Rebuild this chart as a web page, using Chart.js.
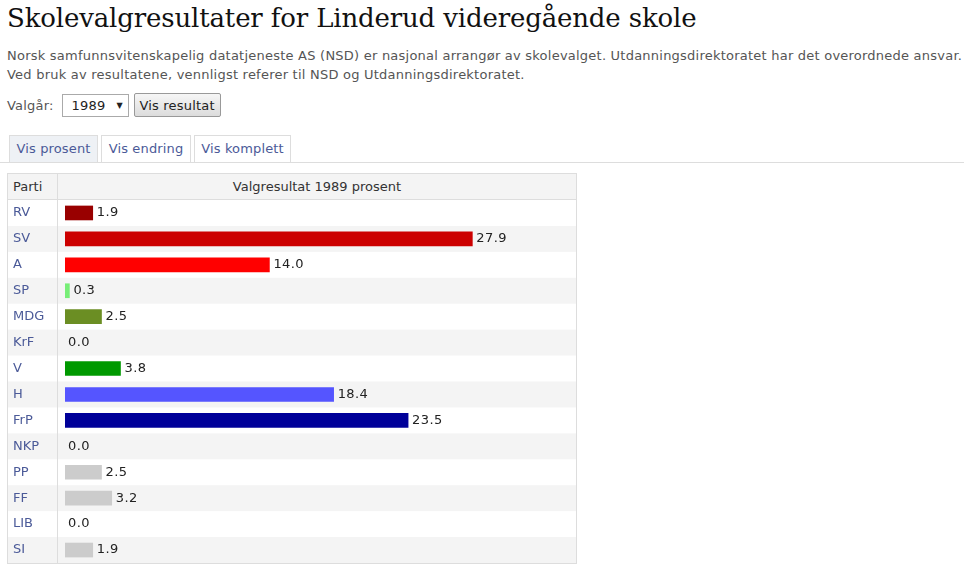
<!DOCTYPE html>
<html lang="no">
<head>
<meta charset="utf-8">
<script src="https://cdn.jsdelivr.net/npm/chart.js@4"></script>
<style>
  body { margin: 0; background: #fff; font-family: "DejaVu Sans", Verdana, sans-serif; font-size: 13px; color: #555; }
  h1 { position: absolute; left: 7px; top: 3px; margin: 0; font-family: "DejaVu Serif", Georgia, serif; font-weight: normal; font-size: 26px; letter-spacing: -0.15px; color: #111; white-space: nowrap; }
  .intro { position: absolute; left: 7px; top: 46px; margin: 0; line-height: 19px; white-space: nowrap; letter-spacing: 0.23px; }
  .form { position: absolute; left: 7px; top: 93px; height: 24px; display: flex; align-items: center; letter-spacing: 0.2px; }
  .sel { margin-left: 8px; width: 67px; height: 23px; border: 1px solid #aaa; background: #fff; color: #222; display: flex; align-items: center; box-sizing: border-box; padding-left: 9px; }
  .sel span { font-size: 8px; margin-left: 11px; }
  .btn { margin-left: 5px; height: 24px; width: 87px; justify-content: center; box-sizing: border-box; border: 1px solid #999; border-radius: 2px; background: linear-gradient(#f6f6f6, #dcdcdc); color: #222; display: flex; align-items: center; }
  .tabs { position: absolute; left: 0; top: 135px; width: 964px; height: 27px; border-bottom: 1px solid #ddd; letter-spacing: 0.15px; }
  .tab { position: absolute; top: 0; height: 27px; box-sizing: border-box; border: 1px solid #ddd; border-bottom: none; color: #4b5a98; padding: 5px 0 0 0; text-align: center; white-space: nowrap; }
  .tab.on { background: #eef1f5; }
  .tbl { position: absolute; left: 7px; top: 173px; width: 570px; height: 391px; box-sizing: border-box; border: 1px solid #ddd; }
  .head { position: absolute; left: 0; top: 0; width: 568px; height: 25px; background: #f4f4f4; border-bottom: 1px solid #ddd; color: #333; }
  .head .p { position: absolute; left: 5px; top: 5px; }
  .head .v { position: absolute; left: 50px; width: 518px; top: 5px; text-align: center; }
  .head .sep { position: absolute; left: 49px; top: 0; width: 1px; height: 25px; background: #ddd; }
  #wrap { position: absolute; left: 0; top: 26px; width: 568px; height: 363px; }
</style>
</head>
<body>
<h1>Skolevalgresultater for Linderud videregående skole</h1>
<p class="intro">Norsk samfunnsvitenskapelig datatjeneste AS (NSD) er nasjonal arrangør av skolevalget. Utdanningsdirektoratet har det overordnede ansvar.<br>Ved bruk av resultatene, vennligst referer til NSD og Utdanningsdirektoratet.</p>
<div class="form">Valgår: <div class="sel">1989<span>▼</span></div><div class="btn">Vis resultat</div></div>
<div class="tabs">
  <div class="tab on" style="left:9px;width:89px">Vis prosent</div>
  <div class="tab" style="left:101px;width:90px">Vis endring</div>
  <div class="tab" style="left:194px;width:97px">Vis komplett</div>
</div>
<div class="tbl">
  <div class="head"><div class="p">Parti</div><div class="sep"></div><div class="v" id="htitle"></div></div>
  <div id="wrap"><canvas id="canvas"></canvas></div>
</div>
<script>
// Data
const year = '1989'
const parties = ['RV', 'SV', 'A', 'SP', 'MDG', 'KrF', 'V', 'H', 'FrP', 'NKP', 'PP', 'FF', 'LIB', 'SI']
const percent = [1.9, 27.9, 14.0, 0.3, 2.5, 0.0, 3.8, 18.4, 23.5, 0.0, 2.5, 3.2, 0.0, 1.9]
const colors = ['#990000', '#cc0000', '#ff0000', '#77ee77', '#6b8e23', '#ffcc00', '#009900', '#5555ff', '#000099', '#cccccc', '#cccccc', '#cccccc', '#cccccc', '#cccccc']

document.getElementById('htitle').textContent = 'Valgresultat ' + year + ' prosent'

// Stripete rader og skillelinje
const rows = {
  id: 'rows',
  beforeDraw(chart) {
    const ctx = chart.ctx
    const y = chart.scales.y
    const h = y.height / parties.length
    ctx.save()
    parties.forEach((p, i) => {
      if (i % 2 === 1) {
        ctx.fillStyle = '#f4f4f4'
        ctx.fillRect(0, y.getPixelForValue(i) - h / 2, chart.width, h)
      }
    })
    ctx.fillStyle = '#ddd'
    ctx.fillRect(49, 0, 1, chart.height)
    ctx.restore()
  }
}

// Verdier etter hver stolpe
const labels = {
  id: 'labels',
  afterDatasetsDraw(chart) {
    const ctx = chart.ctx
    ctx.save()
    ctx.font = '13px "DejaVu Sans", Verdana, sans-serif'
    ctx.letterSpacing = '0.4px'
    ctx.fillStyle = '#222'
    ctx.textBaseline = 'middle'
    chart.getDatasetMeta(0).data.forEach((bar, i) => {
      ctx.fillText(percent[i].toFixed(1), bar.x + (percent[i] > 0 ? 4 : 3), bar.y)
    })
    ctx.restore()
  }
}

const canvas = document.getElementById('canvas')
const chart = new Chart(canvas, {
  type: 'bar',
  data: {
    labels: parties,
    datasets: [{
      data: percent,
      // tomme stolper skal ikke tegnes i det hele tatt
      backgroundColor: c => percent[c.dataIndex] > 0 ? colors[c.dataIndex] : 'rgba(0,0,0,0)',
      barThickness: 14
    }]
  },
  options: {
    indexAxis: 'y',
    responsive: true,
    maintainAspectRatio: false,
    animation: false,
    layout: { padding: { left: 5, right: 0, top: 0, bottom: 0 } },
    plugins: { legend: { display: false }, tooltip: { enabled: false } },
    scales: {
      x: { display: false, min: 0, max: 35 },
      y: {
        grid: { display: false },
        border: { display: false },
        ticks: { crossAlign: 'far', color: '#4b5a98', padding: 0, font: { family: '"DejaVu Sans", Verdana, sans-serif', size: 13 } },
        afterFit(scale) {
          scale.width = 52
          scale.paddingTop = 0
          scale.paddingBottom = 0
        }
      }
    }
  },
  plugins: [rows, labels]
})
</script>
</body>
</html>
